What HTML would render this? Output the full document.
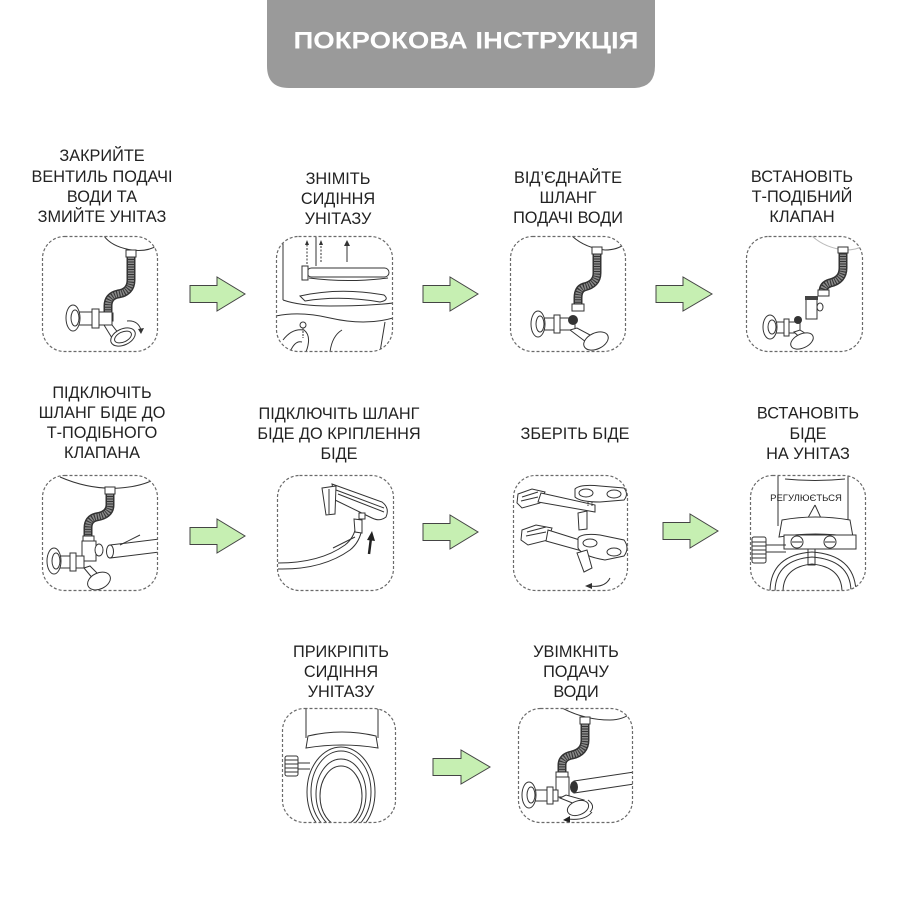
<!DOCTYPE html>
<html><head><meta charset="utf-8"><style>
html,body{margin:0;padding:0;background:#fff;}
svg{display:block;}
.t{font-family:"Liberation Sans",Arial,sans-serif;font-size:16.3px;fill:#222;text-anchor:middle;}
.bx{fill:none;stroke:#6a6a6a;stroke-width:1.2;stroke-dasharray:3 2;}
.ln{fill:none;stroke:#333;stroke-width:1;}
.wf{fill:#fff;stroke:#333;stroke-width:1;}
.ho{fill:none;stroke:#333;stroke-width:9;}
.hi{fill:none;stroke:#8a8a8a;stroke-width:6;stroke-dasharray:1.5 1;}
.ar{fill:#c6efb2;stroke:#444;stroke-width:1;}
</style></head><body>
<svg width="900" height="900" viewBox="0 0 900 900" xmlns="http://www.w3.org/2000/svg">
<defs>
<clipPath id="c1"><rect x="42.5" y="236.5" width="115" height="115" rx="22"/></clipPath>
<clipPath id="c2"><rect x="276.5" y="236.5" width="116" height="115" rx="22"/></clipPath>
<clipPath id="c3"><rect x="510.5" y="236.5" width="115" height="115" rx="22"/></clipPath>
<clipPath id="c4"><rect x="746.5" y="236.5" width="116" height="115" rx="22"/></clipPath>
<clipPath id="c5"><rect x="42.5" y="475.5" width="115" height="115" rx="22"/></clipPath>
<clipPath id="c6"><rect x="277.5" y="475.5" width="116" height="115" rx="22"/></clipPath>
<clipPath id="c7"><rect x="513.5" y="475.5" width="114" height="115" rx="22"/></clipPath>
<clipPath id="c8"><rect x="750.5" y="475.5" width="115" height="115" rx="22"/></clipPath>
<clipPath id="c9"><rect x="282.5" y="708.5" width="113" height="114" rx="22"/></clipPath>
<clipPath id="c10"><rect x="518.5" y="708.5" width="114" height="114" rx="22"/></clipPath>
</defs>

<!-- header -->
<path d="M267,0 H655 V66 Q655,88 633,88 H289 Q267,88 267,66 Z" fill="#9a9a9a"/>
<text x="466" y="48.5" font-family="Liberation Sans, Arial, sans-serif" font-weight="bold" font-size="24" fill="#fff" text-anchor="middle" textLength="345" lengthAdjust="spacingAndGlyphs">ПОКРОКОВА ІНСТРУКЦІЯ</text>

<!-- row 1 labels -->
<text class="t" x="102" y="161">ЗАКРИЙТЕ</text>
<text class="t" x="102" y="182">ВЕНТИЛЬ ПОДАЧІ</text>
<text class="t" x="102" y="202">ВОДИ ТА</text>
<text class="t" x="102" y="222">ЗМИЙТЕ УНІТАЗ</text>

<text class="t" x="338" y="184">ЗНІМІТЬ</text>
<text class="t" x="338" y="204">СИДІННЯ</text>
<text class="t" x="338" y="224">УНІТАЗУ</text>

<text class="t" x="568" y="183">ВІД’ЄДНАЙТЕ</text>
<text class="t" x="568" y="203">ШЛАНГ</text>
<text class="t" x="568" y="223">ПОДАЧІ ВОДИ</text>

<text class="t" x="802" y="182">ВСТАНОВІТЬ</text>
<text class="t" x="802" y="202">Т-ПОДІБНИЙ</text>
<text class="t" x="802" y="222">КЛАПАН</text>

<!-- row 2 labels -->
<text class="t" x="102" y="398">ПІДКЛЮЧІТЬ</text>
<text class="t" x="102" y="418">ШЛАНГ БІДЕ ДО</text>
<text class="t" x="102" y="438">Т-ПОДІБНОГО</text>
<text class="t" x="102" y="458">КЛАПАНА</text>

<text class="t" x="339" y="419">ПІДКЛЮЧІТЬ ШЛАНГ</text>
<text class="t" x="339" y="439">БІДЕ ДО КРІПЛЕННЯ</text>
<text class="t" x="339" y="459">БІДЕ</text>

<text class="t" x="575" y="439">ЗБЕРІТЬ БІДЕ</text>

<text class="t" x="808" y="418.5">ВСТАНОВІТЬ</text>
<text class="t" x="808" y="439">БІДЕ</text>
<text class="t" x="808" y="459">НА УНІТАЗ</text>

<!-- row 3 labels -->
<text class="t" x="341" y="657">ПРИКРІПІТЬ</text>
<text class="t" x="341" y="677">СИДІННЯ</text>
<text class="t" x="341" y="697">УНІТАЗУ</text>

<text class="t" x="576" y="657">УВІМКНІТЬ</text>
<text class="t" x="576" y="677">ПОДАЧУ</text>
<text class="t" x="576" y="697">ВОДИ</text>

<!-- arrows -->
<path class="ar" d="M190,285.5 H217 V277 L245,294 L217,311 V302.5 H190 Z"/>
<path class="ar" d="M423,285.5 H450 V277 L478,294 L450,311 V302.5 H423 Z"/>
<path class="ar" d="M656,285.5 H683 V277 L712,294 L683,311 V302.5 H656 Z"/>
<path class="ar" d="M190,527.5 H217 V519 L245,536 L217,553 V544.5 H190 Z"/>
<path class="ar" d="M423,523.5 H450 V515 L478,532 L450,549 V540.5 H423 Z"/>
<path class="ar" d="M663,522.5 H690 V514 L718,531 L690,548 V539.5 H663 Z"/>
<path class="ar" d="M433,758.5 H461 V750 L490,767 L461,784 V775.5 H433 Z"/>

<!-- BOX 1 -->
<g clip-path="url(#c1)">
<path class="ln" d="M104,236 Q112,247 132,250 Q148,252 158,245"/>
<path class="ho" d="M131,255 L131,280 Q131,292 118,294 Q108,296 108,306 L108,316"/>
<path class="hi" d="M131,255 L131,280 Q131,292 118,294 Q108,296 108,306 L108,316"/>
<rect class="wf" x="126" y="250" width="10" height="7"/>
<rect class="wf" x="103" y="313" width="10" height="8"/>
<rect class="wf" x="76" y="312" width="36" height="13"/>
<ellipse class="wf" cx="73" cy="318" rx="7" ry="13"/>
<ellipse class="ln" cx="75" cy="318" rx="4" ry="8"/>
<rect class="wf" x="92" y="309" width="7" height="19"/>
<path class="wf" d="M104,325 L112,338 L119,334 L112,325 Z"/>
<ellipse class="wf" cx="123" cy="337" rx="13" ry="8" transform="rotate(-25 123 337)"/>
<ellipse class="ln" cx="123" cy="337" rx="9" ry="5" transform="rotate(-25 123 337)"/>
<path class="ln" d="M127,321 Q138,320 141,330"/>
<path d="M138,329 L141,334 L144,328 Z" fill="#333"/>
</g>
<rect class="bx" x="42.5" y="236.5" width="115" height="115" rx="22"/>

<!-- BOX 2 -->
<g clip-path="url(#c2)">
<path class="ln" d="M283,236 L283,300"/>
<path class="ln" d="M316,236 L316,266"/>
<path class="ln" d="M283,300 Q300,306 330,306 Q370,306 393,303"/>
<path class="ln" d="M276,316 Q300,311 330,318 Q365,326 393,318"/>
<path class="ln" d="M300,296 Q340,287 384,295 Q390,300 380,302 Q340,295 305,301 Z"/>
<rect class="wf" x="307" y="268" width="82" height="9" rx="4.5"/>
<path class="ln" d="M309,278 Q348,283 388,278"/>
<rect class="wf" x="302" y="266" width="6" height="14"/>
<path class="ln" d="M347,262 L347,244"/>
<path d="M344,246 L347,240 L350,246 Z" fill="#333"/>
<path class="ln" d="M307,264 L307,244" stroke-dasharray="2 1.5" stroke-width="2"/>
<path d="M305,245 L307,240 L309,245 Z" fill="#333"/>
<path class="ln" d="M321,262 L321,244" stroke-dasharray="2 1.5" stroke-width="2"/>
<path d="M319,245 L321,240 L323,245 Z" fill="#333"/>
<path class="ln" d="M283,340 Q292,328 304,330 Q312,336 306,352"/>
<path class="ln" d="M290,352 Q295,340 302,342"/>
<circle class="wf" cx="303" cy="325" r="3"/>
<path class="ln" d="M303,328 L303,338" stroke-dasharray="2 1"/>
<path class="ln" d="M330,352 Q332,336 342,330"/>
<path class="ln" d="M380,352 L385,322"/>
</g>
<rect class="bx" x="276.5" y="236.5" width="116" height="115" rx="22"/>

<!-- BOX 3 -->
<g clip-path="url(#c3)">
<path class="ln" d="M572,236 Q585,248 605,250 Q618,250 626,243"/>
<path class="ho" d="M597,252 L597,273 Q597,284 584,287 Q578,289 578,298 L578,306"/>
<path class="hi" d="M597,252 L597,273 Q597,284 584,287 Q578,289 578,298 L578,306"/>
<rect class="wf" x="592" y="247" width="10" height="7"/>
<rect class="wf" x="572" y="304" width="12" height="7"/>
<rect class="wf" x="541" y="318" width="34" height="12"/>
<ellipse class="wf" cx="538" cy="324" rx="7" ry="13"/>
<ellipse class="ln" cx="540" cy="324" rx="4" ry="8"/>
<rect class="wf" x="554" y="315" width="6" height="18"/>
<circle cx="573" cy="320" r="5" fill="#333"/>
<path class="wf" d="M570,330 L586,342 L592,336 L577,328 Z"/>
<ellipse class="wf" cx="596" cy="341" rx="13" ry="8" transform="rotate(-25 596 341)"/>
</g>
<rect class="bx" x="510.5" y="236.5" width="115" height="115" rx="22"/>

<!-- BOX 4 -->
<g clip-path="url(#c4)">
<path d="M812,236 Q825,248 845,250 Q858,250 864,245" fill="none" stroke="#bbb"/>
<path class="ho" d="M843,252 L843,268 Q843,280 830,283 Q823,285 823,292"/>
<path class="hi" d="M843,252 L843,268 Q843,280 830,283 Q823,285 823,292"/>
<rect class="wf" x="838" y="247" width="10" height="6"/>
<rect class="wf" x="818" y="290" width="11" height="6"/>
<rect class="wf" x="806" y="297" width="11" height="22"/>
<rect x="805" y="296" width="13" height="4" fill="#444"/>
<ellipse class="wf" cx="820" cy="307" rx="3" ry="4"/>
<rect class="wf" x="773" y="322" width="27" height="11"/>
<ellipse class="wf" cx="770" cy="327" rx="7" ry="12"/>
<ellipse class="ln" cx="772" cy="327" rx="4" ry="7"/>
<rect class="wf" x="784" y="319" width="5" height="17"/>
<circle cx="798" cy="320" r="4" fill="#333"/>
<path class="wf" d="M794,332 L806,343 L811,337 L800,330 Z"/>
<ellipse class="wf" cx="802" cy="341" rx="12" ry="7" transform="rotate(-25 802 341)"/>
</g>
<rect class="bx" x="746.5" y="236.5" width="116" height="115" rx="22"/>

<!-- BOX 5 -->
<g clip-path="url(#c5)">
<path class="ln" d="M60,477 Q90,490 120,488 Q145,486 158,477"/>
<path class="ho" d="M110,492 L110,505 Q110,515 96,517 Q88,519 88,528 L88,538"/>
<path class="hi" d="M110,492 L110,505 Q110,515 96,517 Q88,519 88,528 L88,538"/>
<rect class="wf" x="105" y="487" width="10" height="7"/>
<rect class="wf" x="83" y="536" width="11" height="6"/>
<rect class="wf" x="82" y="541" width="14" height="20"/>
<ellipse class="wf" cx="99" cy="550" rx="4" ry="6"/>
<rect class="wf" x="58" y="556" width="26" height="12"/>
<ellipse class="wf" cx="54" cy="561" rx="7" ry="13"/>
<ellipse class="ln" cx="56" cy="561" rx="4" ry="8"/>
<rect class="wf" x="70" y="553" width="6" height="18"/>
<path class="wf" d="M84,568 L94,580 L99,575 L90,566 Z"/>
<ellipse class="wf" cx="99" cy="581" rx="12" ry="8" transform="rotate(-25 99 581)"/>
<path class="wf" d="M110,545 L160,539 L160,552 L110,558 Z"/>
<ellipse class="wf" cx="110" cy="551.5" rx="3.5" ry="6.5"/>
<path class="ln" d="M120,545 L140,535"/>
</g>
<rect class="bx" x="42.5" y="475.5" width="115" height="115" rx="22"/>

<!-- BOX 6 -->
<g clip-path="url(#c6)">
<path class="wf" d="M332,484 L382,502 Q390,508 386,517 Q380,522 372,518 L335,500 Z"/>
<path class="ln" d="M336,490 L384,508"/>
<path class="ln" d="M338,494 L384,512"/>
<path class="wf" d="M322,488 L336,486 L335,514 L326,515 Z"/>
<path class="ln" d="M329,489 L329,514"/>
<rect class="wf" x="359" y="513" width="6" height="6"/>
<path class="ln" d="M278,563 Q320,563 345,545 Q354,538 356,526"/>
<path class="ln" d="M278,569 Q322,570 350,550 Q360,542 362,528"/>
<path class="wf" d="M354,519 L362,520 L362,533 L355,532 Z"/>
<path d="M369,554 L371,538" stroke="#222" stroke-width="2.5"/>
<path d="M367,540 L372,531 L375,541 Z" fill="#222"/>
<path class="ln" d="M333,548 L355,537"/>
</g>
<rect class="bx" x="277.5" y="475.5" width="116" height="115" rx="22"/>

<!-- BOX 7 -->
<g clip-path="url(#c7)">
<path class="wf" d="M518,494 L532,489 L545,492 L540,503 L522,508 L517,503 Z"/>
<path class="ln" d="M522,497 L538,492 M521,501 L538,497"/>
<path class="wf" d="M541,493 L595,505 L595,512 L538,502 Z"/>
<path class="wf" d="M575,489 Q580,484 600,486 L624,488 Q629,494 624,500 L600,502 Q580,502 575,497 Z"/>
<ellipse class="ln" cx="586" cy="493" rx="7" ry="4"/>
<ellipse class="ln" cx="614" cy="494" rx="7" ry="4"/>
<path class="ln" d="M588,502 L588,507 M592,502 L592,507" stroke-dasharray="1.5 1"/>
<path class="wf" d="M578,513 L587,511 L587,529 L579,530 Z"/>
<path class="wf" d="M522,530 L536,525 L552,528 L548,540 L528,545 L521,540 Z"/>
<path class="ln" d="M527,532 L546,527 M526,536 L546,532"/>
<path class="wf" d="M548,530 L602,547 L600,556 L546,541 Z"/>
<path class="wf" d="M578,538 Q582,533 600,535 L624,540 Q630,548 624,556 L605,560 Q582,556 578,548 Z"/>
<ellipse class="ln" cx="590" cy="543" rx="7" ry="4"/>
<ellipse class="ln" cx="614" cy="552" rx="7" ry="4"/>
<path class="wf" d="M577,553 L587,550 L592,568 L584,572 Z"/>
<path class="ln" d="M610,578 Q605,588 590,586"/>
<path d="M592,583 L585,586 L592,589 Z" fill="#333"/>
</g>
<rect class="bx" x="513.5" y="475.5" width="114" height="115" rx="22"/>

<!-- BOX 8 -->
<g clip-path="url(#c8)">
<path class="ln" d="M778,475 L778,526"/>
<path class="ln" d="M848,475 L848,522"/>
<path class="ln" d="M785,479 Q815,482 845,479"/>
<text x="806" y="501" font-family="Liberation Sans, Arial, sans-serif" font-size="9.5" fill="#222" text-anchor="middle">РЕГУЛЮЄТЬСЯ</text>
<path class="ln" d="M815,505 L797,538 M815,505 L830,538"/>
<path class="wf" d="M782,520 Q815,514 850,520 L853,537 Q815,531 779,537 Z"/>
<rect class="wf" x="784" y="535" width="72" height="14"/>
<circle class="wf" cx="797" cy="542" r="6"/>
<path class="ln" d="M792,542 L802,542"/>
<circle class="wf" cx="830" cy="542" r="6"/>
<path class="ln" d="M825,542 L835,542"/>
<rect class="wf" x="752" y="537" width="14" height="26" rx="2"/>
<path class="ln" d="M752,542 L766,542 M752,546 L766,546 M752,550 L766,550 M752,554 L766,554 M752,558 L766,558"/>
<path class="ln" d="M766,545 L786,545 M766,552 L786,552"/>
<rect class="wf" x="808" y="549" width="7" height="16"/>
<path class="ln" d="M770,592 Q770,555 812,552 Q855,555 856,592"/>
<path class="ln" d="M775,592 Q775,560 812,557 Q851,560 851,592"/>
<path class="ln" d="M783,592 Q783,567 812,564 Q842,567 842,592"/>
</g>
<rect class="bx" x="750.5" y="475.5" width="115" height="115" rx="22"/>

<!-- BOX 9 -->
<g clip-path="url(#c9)">
<path class="ln" d="M306,708 L306,738"/>
<path class="ln" d="M378,708 L378,738"/>
<path class="wf" d="M308,736 Q342,728 376,736 L378,748 Q342,742 306,748 Z"/>
<rect class="wf" x="285" y="756" width="13" height="20" rx="2"/>
<path class="ln" d="M285,760 L298,760 M285,764 L298,764 M285,768 L298,768 M285,772 L298,772"/>
<path class="ln" d="M298,763 L310,763 M298,769 L310,769"/>
<ellipse class="wf" cx="341" cy="792" rx="34" ry="45"/>
<ellipse class="ln" cx="341" cy="792" rx="30" ry="41"/>
<ellipse class="ln" cx="341" cy="794" rx="25" ry="35"/>
<ellipse class="ln" cx="341" cy="796" rx="21" ry="30"/>
</g>
<rect class="bx" x="282.5" y="708.5" width="113" height="114" rx="22"/>

<!-- BOX 10 -->
<g clip-path="url(#c10)">
<path class="ln" d="M562,708 Q585,720 610,720 Q624,720 634,711"/>
<path class="ho" d="M585,722 L585,740 Q585,752 572,755 Q562,757 562,765 L562,774"/>
<path class="hi" d="M585,722 L585,740 Q585,752 572,755 Q562,757 562,765 L562,774"/>
<rect class="wf" x="580" y="717" width="10" height="7"/>
<rect class="wf" x="556" y="772" width="12" height="6"/>
<rect class="wf" x="556" y="777" width="13" height="20"/>
<path class="wf" d="M574,781 L634,772 L634,784 L574,793 Z"/>
<ellipse cx="574" cy="787" rx="4" ry="6" fill="#333"/>
<rect class="wf" x="534" y="790" width="24" height="11"/>
<ellipse class="wf" cx="529" cy="795" rx="7" ry="13"/>
<ellipse class="ln" cx="531" cy="795" rx="4" ry="8"/>
<rect class="wf" x="547" y="787" width="6" height="17"/>
<path class="wf" d="M560,798 L580,806 L584,800 L566,795 Z"/>
<ellipse class="wf" cx="578" cy="808" rx="11" ry="7" transform="rotate(-20 578 808)"/>
<path class="ln" d="M588,800 Q596,806 590,812"/>
<path class="ln" d="M592,812 Q585,821 568,819"/>
<path d="M570,816 L563,820 L570,823 Z" fill="#222"/>
</g>
<rect class="bx" x="518.5" y="708.5" width="114" height="114" rx="22"/>
</svg>
</body></html>
